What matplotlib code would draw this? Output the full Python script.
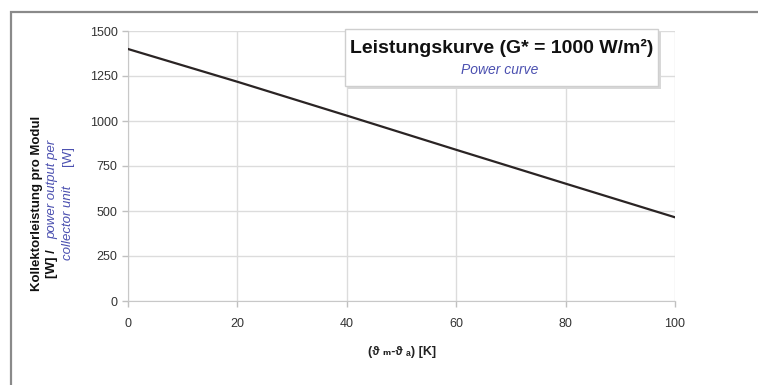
"""Collector power curve per module at G* = 1000 W/m2."""

import matplotlib.pyplot as plt
from matplotlib.patches import Rectangle

TEMP_DIFF_K = [0, 20, 40, 60, 80, 100]
POWER_W = [1400, 1218, 1030, 840, 652, 465]
X_TICKS = [0, 20, 40, 60, 80, 100]
Y_TICKS = [0, 250, 500, 750, 1000, 1250, 1500]

BLUE = "#4b50b0"
GRID = "#dcdcdc"

plt.rcParams["font.family"] = ["Liberation Sans", "DejaVu Sans"]

W, H = 758, 385
fig = plt.figure(figsize=(W / 100, H / 100), dpi=100)


def fx(px):
    return px / W


def fy(py):
    return 1 - py / H


# outer frame, running off the right and bottom edges
fig.patches.append(Rectangle((fx(11), fy(420)), fx(800), fy(12) - fy(420),
                             transform=fig.transFigure, fill=False,
                             edgecolor="#8a8a8a", linewidth=1.6))

ax = fig.add_axes([fx(128), fy(301), fx(675) - fx(128), fy(31) - fy(301)])
ax.plot(TEMP_DIFF_K, POWER_W, color="#2a2424", linewidth=1.6, zorder=3)

ax.set_xlim(0, 100)
ax.set_ylim(0, 1500)
ax.set_xticks(X_TICKS)
ax.set_yticks(Y_TICKS)
ax.grid(True, color=GRID, linewidth=1.0)
ax.set_axisbelow(True)
for side in ("top", "right"):
    ax.spines[side].set_visible(False)
for side in ("left", "bottom"):
    ax.spines[side].set_color("#c8c8c8")
ax.tick_params(colors="#c0c0c0", labelcolor="#333333", labelsize=9,
               length=4, width=1.0)
ax.tick_params(axis="x", pad=8)

fig.text(fx(402), fy(352), "(ϑ ₘ-ϑ ₐ) [K]",
         ha="center", va="center", fontsize=9, fontweight="bold",
         color="#222222")

# y label, three rotated lines in two colours
fig.text(fx(37), fy(203), "Kollektorleistung pro Modul", rotation=90,
         ha="center", va="center", fontsize=9.5, fontweight="bold",
         color="#111111")
fig.text(fx(52), fy(264), "[W] /", rotation=90, ha="center", va="center",
         fontsize=9.5, fontweight="bold", color="#111111")
fig.text(fx(52), fy(189), "power output per", rotation=90, ha="center",
         va="center", fontsize=9.5, style="italic", color=BLUE)
fig.text(fx(68), fy(223), "collector unit", rotation=90, ha="center",
         va="center", fontsize=9.5, style="italic", color=BLUE)
fig.text(fx(68), fy(156), "[W]", rotation=90, ha="center", va="center",
         fontsize=9.5, color=BLUE)

# title box inside the plot
fig.patches.append(Rectangle((fx(348), fy(89)), fx(658) - fx(345),
                             fy(29) - fy(86), transform=fig.transFigure,
                             facecolor="#d8d8d8", edgecolor="none",
                             zorder=4))
fig.patches.append(Rectangle((fx(345), fy(86)), fx(658) - fx(345),
                             fy(29) - fy(86), transform=fig.transFigure,
                             facecolor="white", edgecolor="#cfcfcf",
                             linewidth=1.0, zorder=5))
fig.text(fx(502), fy(48), "Leistungskurve (G* = 1000 W/m²)", ha="center",
         va="center", fontsize=14, fontweight="bold", color="#111111",
         zorder=6)
fig.text(fx(500), fy(70), "Power curve", ha="center", va="center",
         fontsize=10, style="italic", color=BLUE, zorder=6)

fig.savefig("out.png", dpi=100)
